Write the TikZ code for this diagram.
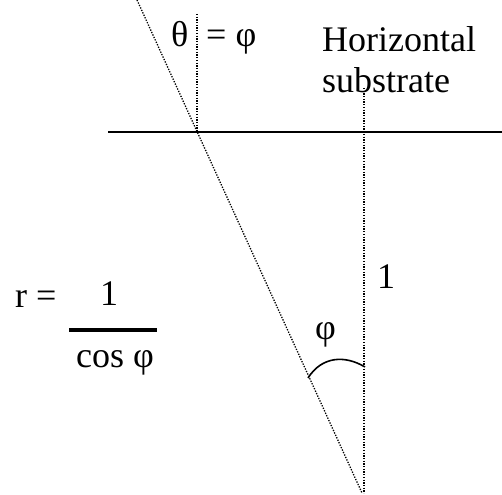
\documentclass[tikz,border=0pt]{standalone}
\usepackage{fontspec}
\setmainfont{Liberation Serif}
\begin{document}
\begin{tikzpicture}[x=1pt,y=-1pt,
  lbl/.style={inner sep=0pt,anchor=base west,font=\fontsize{36}{40}\selectfont},
  dotline/.style={line width=1.3pt,dash pattern=on 1.3pt off 1.4pt},
  solidline/.style={line width=2pt},
  fracbar/.style={line width=4pt},
  arcline/.style={line width=1.6pt}]
\useasboundingbox (0,0) rectangle (502,494);
% coordinates
\coordinate (slantTop) at (137,0);
\coordinate (slantBot) at (362,493);
\coordinate (shortTop) at (197,14);
\coordinate (shortBot) at (197,132);
\coordinate (vertTop) at (364,88);
\coordinate (vertBot) at (364,493);
\coordinate (hLeft) at (108,132);
\coordinate (hRight) at (502,132);
\coordinate (arcA) at (308,378);
\coordinate (arcB) at (365,367);
\coordinate (barL) at (69,330);
\coordinate (barR) at (157,330);
% lines
\draw[dotline] (slantTop) -- (slantBot);
\draw[dotline] (shortTop) -- (shortBot);
\draw[dotline] (vertTop) -- (vertBot);
\draw[solidline] (hLeft) -- (hRight);
\draw[arcline] (arcA) .. controls (322,356) and (345,355) .. (arcB);
\draw[fracbar] (barL) -- (barR);
% texts
\node[lbl] (theta) at (171,47) {θ};
\node[lbl] (eqphi) at (206,47) {= φ};
\node[lbl] (horiz) at (322,52) {Horizontal};
\node[lbl] (subs) at (322,93) {substrate};
\node[lbl] (one) at (377,288) {1};
\node[lbl] (phi) at (315,339) {φ};
\node[lbl] (req) at (15,307) {r =};
\node[lbl] (num) at (100,305) {1};
\node[lbl] (den) at (76,367) {cos φ};
\end{tikzpicture}
\end{document}
